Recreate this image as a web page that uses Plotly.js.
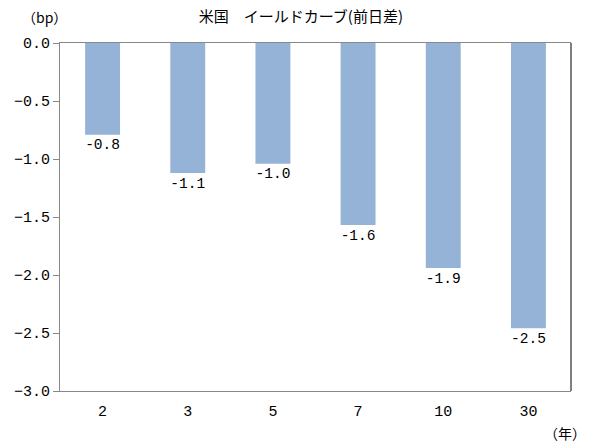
<!DOCTYPE html>
<html>
<head>
<meta charset="utf-8">
<script src="https://cdn.plot.ly/plotly-3.0.1.min.js"></script>
<style>html,body{margin:0;padding:0;background:#fff;}#chart{width:590px;height:446px;}</style>
</head>
<body>
<div id="chart"></div>
<script>
const categories = ['2', '3', '5', '7', '10', '30'];
const values = [-0.79, -1.12, -1.04, -1.57, -1.94, -2.46];
const titleText = '米国\u3000イールドカーブ(前日差)';
const yUnit = '（bp）';
const xUnit = '（年）';

const font = "'Noto Sans CJK JP', 'DejaVu Sans', sans-serif";
const numFont = "'Liberation Mono', 'DejaVu Sans Mono', monospace";

const trace = {
  type: 'bar',
  x: categories,
  y: values,
  marker: {color: '#95B3D7'},
  texttemplate: '%{y:.1f}',
  textposition: 'outside',
  cliponaxis: false,
  textfont: {family: numFont, size: 16, color: '#000'},
  hoverinfo: 'none'
};

const layout = {
  width: 590, height: 446,
  margin: {l: 60, r: 19, t: 43, b: 55},
  paper_bgcolor: '#fff', plot_bgcolor: '#fff',
  showlegend: false,
  bargap: 0.59,
  font: {family: font, size: 14, color: '#000'},
  title: {text: titleText, x: 0.51, xanchor: 'center', y: 0.962, yanchor: 'middle', font: {family: font, size: 15, color: '#000'}},
  xaxis: {
    type: 'category',
    showline: true, linecolor: '#888', linewidth: 1, mirror: true,
    ticks: '', showgrid: false, zeroline: false,
    tickfont: {family: numFont, size: 15, color: '#000'},
    ticklabelstandoff: 6
  },
  yaxis: {
    range: [-3, 0], dtick: 0.5, tickformat: '.1f',
    showline: true, linecolor: '#888', linewidth: 1,
    ticks: 'outside', ticklen: 6, tickcolor: '#888',
    showgrid: false, zeroline: false,
    tickfont: {family: numFont, size: 15, color: '#000'}
  },
  shapes: [
    {type: 'line', xref: 'paper', yref: 'paper', x0: 1, x1: 1, y0: 0, y1: 1, line: {color: '#000', width: 1}}
  ],
  annotations: [
    {text: yUnit, xref: 'paper', yref: 'paper', x: -0.03, y: 1.075, xanchor: 'center', yanchor: 'middle', showarrow: false, font: {family: font, size: 14, color: '#000'}},
    {text: xUnit, xref: 'paper', yref: 'paper', x: 1.033, y: -0.12, xanchor: 'right', yanchor: 'middle', showarrow: false, font: {family: font, size: 14, color: '#000'}}
  ]
};

Plotly.newPlot('chart', [trace], layout, {staticPlot: true, displayModeBar: false});
</script>
</body>
</html>
